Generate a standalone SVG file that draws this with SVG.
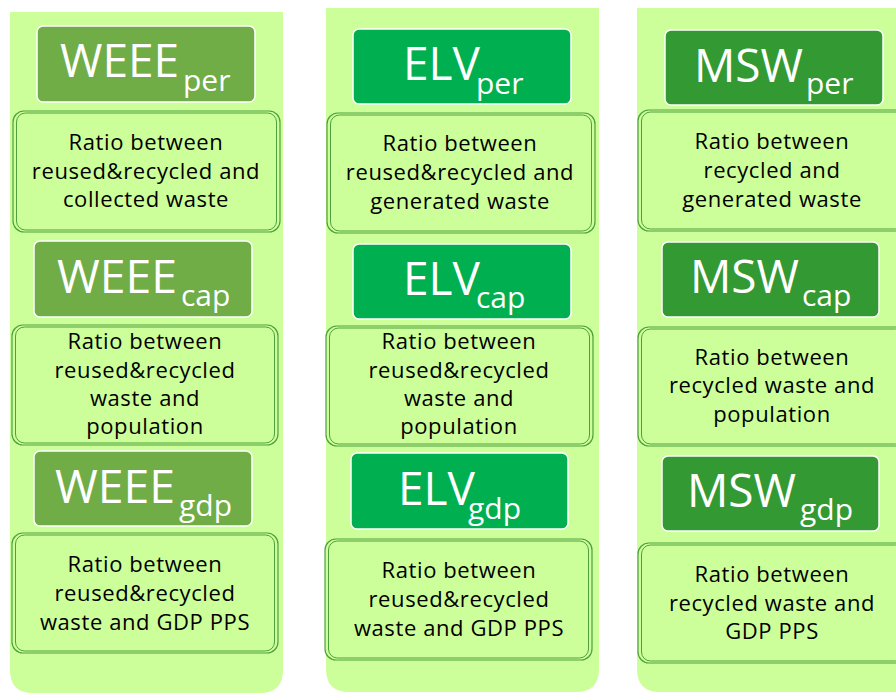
<svg xmlns="http://www.w3.org/2000/svg" width="896" height="693" viewBox="0 0 896 693">
<style>
.col{fill:#CCFF99;}
.hdr{stroke:#ffffff;stroke-width:1.5;}
.weee{fill:#70AD47;}
.elv{fill:#00B050;}
.msw{fill:#339933;}
.bo{fill:#CCFF99;stroke:#4E9F3D;stroke-width:1.2;}
.bi{fill:none;stroke:#4E9F3D;stroke-width:1;}
.ht{font-family:"Open Sans","Liberation Sans",sans-serif;fill:#ffffff;font-size:46px;}
.hs{font-family:"Open Sans","Liberation Sans",sans-serif;fill:#ffffff;font-size:30px;}
.bt{font-family:"Open Sans","Liberation Sans",sans-serif;fill:#000000;font-size:22px;letter-spacing:0.6px;text-anchor:middle;}
</style>
<rect width="896" height="693" fill="#ffffff"/>
<g id="columns">
<path class="col" d="M10,12 H283 V670 Q283,693 260,693 H33 Q10,693 10,670 Z"/>
<path class="col" d="M326,8 H599 V669 Q599,692 576,692 H349 Q326,692 326,669 Z"/>
<path class="col" d="M637,8 H920 V692 H660 Q637,692 637,669 Z"/>
</g>
<g id="weee-per">
<rect class="hdr weee" x="37" y="26" width="218" height="76" rx="6"/>
<text class="ht" x="60" y="77" textLength="119" lengthAdjust="spacingAndGlyphs">WEEE</text>
<text class="hs" x="183" y="91">per</text>
</g>
<g id="weee-per-desc">
<rect class="bo" x="13" y="111" width="267" height="121" rx="11"/>
<rect class="bi" x="16.5" y="113" width="260" height="117" rx="9"/>
<text class="bt" x="146" y="150">Ratio between</text>
<text class="bt" x="146" y="179">reused&amp;recycled and</text>
<text class="bt" x="146" y="207">collected waste</text>
</g>
<g id="weee-cap">
<rect class="hdr weee" x="34" y="241" width="218" height="76" rx="6"/>
<text class="ht" x="57" y="293" textLength="120" lengthAdjust="spacingAndGlyphs">WEEE</text>
<text class="hs" x="181" y="306">cap</text>
</g>
<g id="weee-cap-desc">
<rect class="bo" x="12" y="325" width="266" height="120" rx="11"/>
<rect class="bi" x="15.5" y="327" width="259" height="116" rx="9"/>
<text class="bt" x="145" y="349">Ratio between</text>
<text class="bt" x="145" y="378">reused&amp;recycled</text>
<text class="bt" x="145" y="406">waste and</text>
<text class="bt" x="145" y="434">population</text>
</g>
<g id="weee-gdp">
<rect class="hdr weee" x="34" y="451" width="218" height="75" rx="6"/>
<text class="ht" x="55" y="503" textLength="120" lengthAdjust="spacingAndGlyphs">WEEE</text>
<text class="hs" x="179" y="516">gdp</text>
</g>
<g id="weee-gdp-desc">
<rect class="bo" x="12" y="533" width="266" height="120" rx="11"/>
<rect class="bi" x="15.5" y="535" width="259" height="116" rx="9"/>
<text class="bt" x="145" y="572">Ratio between</text>
<text class="bt" x="145" y="601">reused&amp;recycled</text>
<text class="bt" x="145" y="630">waste and GDP PPS</text>
</g>
<g id="elv-per">
<rect class="hdr elv" x="353" y="29" width="218" height="75" rx="6"/>
<text class="ht" x="403" y="80">ELV</text>
<text class="hs" x="476" y="94">per</text>
</g>
<g id="elv-per-desc">
<rect class="bo" x="327" y="113" width="268" height="120" rx="11"/>
<rect class="bi" x="330.5" y="115" width="261" height="116" rx="9"/>
<text class="bt" x="460" y="151">Ratio between</text>
<text class="bt" x="460" y="180">reused&amp;recycled and</text>
<text class="bt" x="460" y="209">generated waste</text>
</g>
<g id="elv-cap">
<rect class="hdr elv" x="353" y="244" width="218" height="75" rx="6"/>
<text class="ht" x="403" y="295">ELV</text>
<text class="hs" x="476" y="308">cap</text>
</g>
<g id="elv-cap-desc">
<rect class="bo" x="326" y="326" width="267" height="120" rx="11"/>
<rect class="bi" x="329.5" y="328" width="260" height="116" rx="9"/>
<text class="bt" x="459" y="349">Ratio between</text>
<text class="bt" x="459" y="378">reused&amp;recycled</text>
<text class="bt" x="459" y="406">waste and</text>
<text class="bt" x="459" y="434">population</text>
</g>
<g id="elv-gdp">
<rect class="hdr elv" x="351" y="453" width="217" height="76" rx="6"/>
<text class="ht" x="398" y="505">ELV</text>
<text class="hs" x="468" y="519">gdp</text>
</g>
<g id="elv-gdp-desc">
<rect class="bo" x="325" y="539" width="267" height="121" rx="11"/>
<rect class="bi" x="328.5" y="541" width="260" height="117" rx="9"/>
<text class="bt" x="459" y="578">Ratio between</text>
<text class="bt" x="459" y="607">reused&amp;recycled</text>
<text class="bt" x="459" y="636">waste and GDP PPS</text>
</g>
<g id="msw-per">
<rect class="hdr msw" x="665" y="30" width="218" height="75" rx="6"/>
<text class="ht" x="694" y="82">MSW</text>
<text class="hs" x="806" y="94">per</text>
</g>
<g id="msw-per-desc">
<rect class="bo" x="638" y="110" width="270" height="121" rx="11"/>
<rect class="bi" x="641.5" y="112" width="263" height="117" rx="9"/>
<text class="bt" x="772" y="149">Ratio between</text>
<text class="bt" x="772" y="178">recycled and</text>
<text class="bt" x="772" y="207">generated waste</text>
</g>
<g id="msw-cap">
<rect class="hdr msw" x="662" y="242" width="217" height="75" rx="6"/>
<text class="ht" x="690" y="293">MSW</text>
<text class="hs" x="802" y="306">cap</text>
</g>
<g id="msw-cap-desc">
<rect class="bo" x="638" y="327" width="270" height="119" rx="11"/>
<rect class="bi" x="641.5" y="329" width="263" height="115" rx="9"/>
<text class="bt" x="772" y="365">Ratio between</text>
<text class="bt" x="772" y="393">recycled waste and</text>
<text class="bt" x="772" y="422">population</text>
</g>
<g id="msw-gdp">
<rect class="hdr msw" x="662" y="456" width="217" height="75" rx="6"/>
<text class="ht" x="687" y="507">MSW</text>
<text class="hs" x="800" y="520">gdp</text>
</g>
<g id="msw-gdp-desc">
<rect class="bo" x="638" y="543" width="270" height="120" rx="11"/>
<rect class="bi" x="641.5" y="545" width="263" height="116" rx="9"/>
<text class="bt" x="772" y="582">Ratio between</text>
<text class="bt" x="772" y="611">recycled waste and</text>
<text class="bt" x="772" y="639">GDP PPS</text>
</g>
<g id="connectors"/>
</svg>
